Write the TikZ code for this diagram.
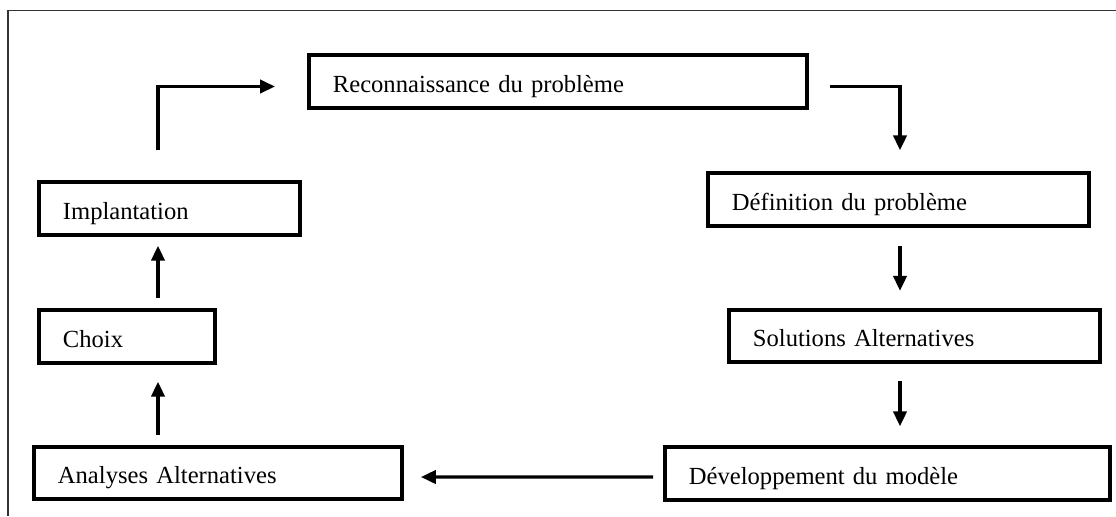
\documentclass[tikz,border=0pt]{standalone}
\usepackage{fontspec}
\setmainfont{Liberation Serif}
\usetikzlibrary{arrows.meta}

\begin{document}
\begin{tikzpicture}[
        etape/.style={draw, line width=2.2pt, anchor=west, align=left,
            inner xsep=0.48cm, minimum height=1.05cm,
            text height=12pt, text depth=0pt,
            font=\fontsize{14}{16}\selectfont},
        fleche/.style={line width=1.9pt, -{Triangle[length=8.5pt, width=7.5pt]}}
    ]
        \useasboundingbox (0, 0) rectangle (22.32, -10.32);
        \draw[line width=0.6pt, black!80] (22.32, -0.21) -- (0.16, -0.21) -- (0.16, -10.32);

        \node[etape, text width=9.0cm] (reco) at (6.14, -1.63) {Reconnaissance du problème};
        \node[etape, text width=6.66cm] (def) at (14.12, -3.99) {Définition du problème};
        \node[etape, text width=6.46cm] (sol) at (14.54, -6.72) {Solutions Alternatives};
        \node[etape, text width=7.94cm] (dev) at (13.26, -9.47) {Développement du modèle};
        \node[etape, text width=6.40cm] (ana) at (0.64, -9.46) {Analyses Alternatives};
        \node[etape, text width=2.56cm] (choix) at (0.74, -6.73) {Choix};
        \node[etape, text width=4.26cm] (impl) at (0.74, -4.17) {Implantation};

        \coordinate (gauche) at (3.16, 0);
        \coordinate (droite) at (18.0, 0);

        \draw[fleche, shorten <=0.42cm, shorten >=0.42cm] ([yshift=-0.1cm]reco.east) -| (droite |- def.north);
        \draw[fleche, shorten <=0.36cm, shorten >=0.34cm] (droite |- def.south) -- (droite |- sol.north);
        \draw[fleche, shorten <=0.34cm, shorten >=0.38cm] (droite |- sol.south) -- (droite |- dev.north);
        \draw[fleche, shorten <=0.2cm, shorten >=0.34cm] ([yshift=-0.07cm]dev.west) -- ([yshift=-0.08cm]ana.east);
        \draw[fleche, shorten <=0.2cm, shorten >=0.34cm] (gauche |- ana.north) -- (gauche |- choix.south);
        \draw[fleche, shorten <=0.2cm, shorten >=0.18cm] (gauche |- choix.north) -- (gauche |- impl.south);
        \draw[fleche, shorten <=0.6cm, shorten >=0.64cm] (gauche |- impl.north) |- ([yshift=-0.1cm]reco.west);
\end{tikzpicture}
\end{document}
